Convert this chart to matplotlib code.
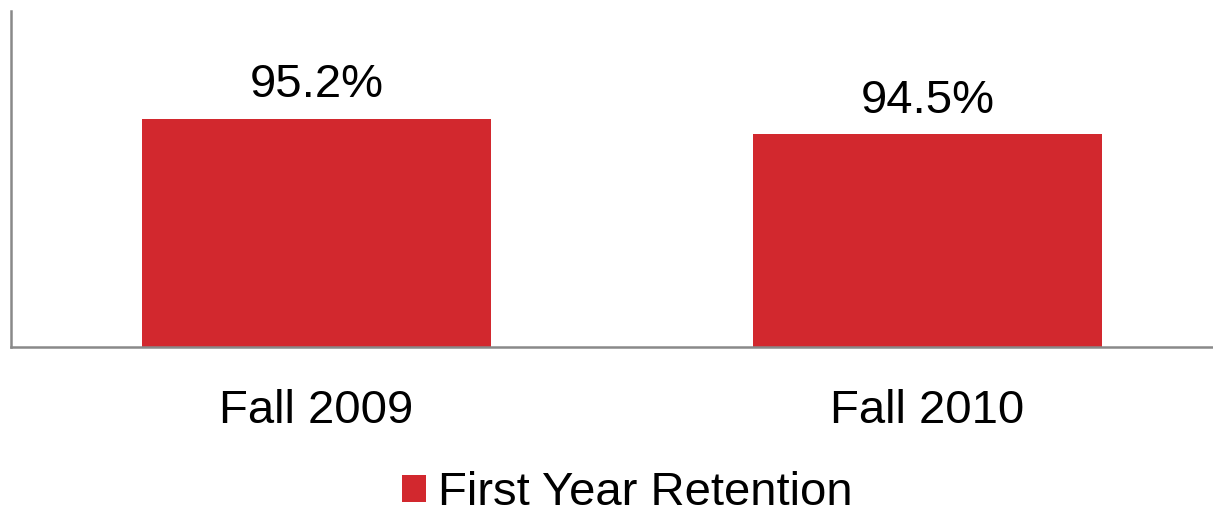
import matplotlib
matplotlib.use("Agg")
import matplotlib.pyplot as plt

categories = ["Fall 2009", "Fall 2010"]
retention = [95.2, 94.5]
labels = ["95.2%", "94.5%"]
series_name = "First Year Retention"

red = "#D2282E"
grey = "#898989"

plt.rcParams['font.family'] = ['Liberation Sans', 'DejaVu Sans']

W, H = 1213, 515
fig = plt.figure(figsize=(W/100, H/100), dpi=100)
ax = fig.add_axes([11/W, 1 - 347/H, 1222/W, 336/H])

x = range(len(categories))
bars = ax.bar(x, retention, width=0.571, color=red, label=series_name, zorder=2)
ax.set_ylim(85, 100)
ax.set_xlim(-0.5, 1.5)

ax.bar_label(bars, labels=labels, padding=8, fontsize=34)

ax.set_xticks(list(x))
ax.set_xticklabels(categories, fontsize=34)
ax.tick_params(axis='x', length=0, pad=30)
ax.set_yticks([])

for s in ['top', 'right']:
    ax.spines[s].set_visible(False)
for s in ['left', 'bottom']:
    ax.spines[s].set_color(grey)
    ax.spines[s].set_linewidth(1.8)

fig.legend(loc='lower center', bbox_to_anchor=(0.517, -0.046), frameon=False,
           borderpad=0, fontsize=34, handlelength=0.52, handleheight=0.52,
           handletextpad=0.25)

fig.savefig("out.png", dpi=100)
